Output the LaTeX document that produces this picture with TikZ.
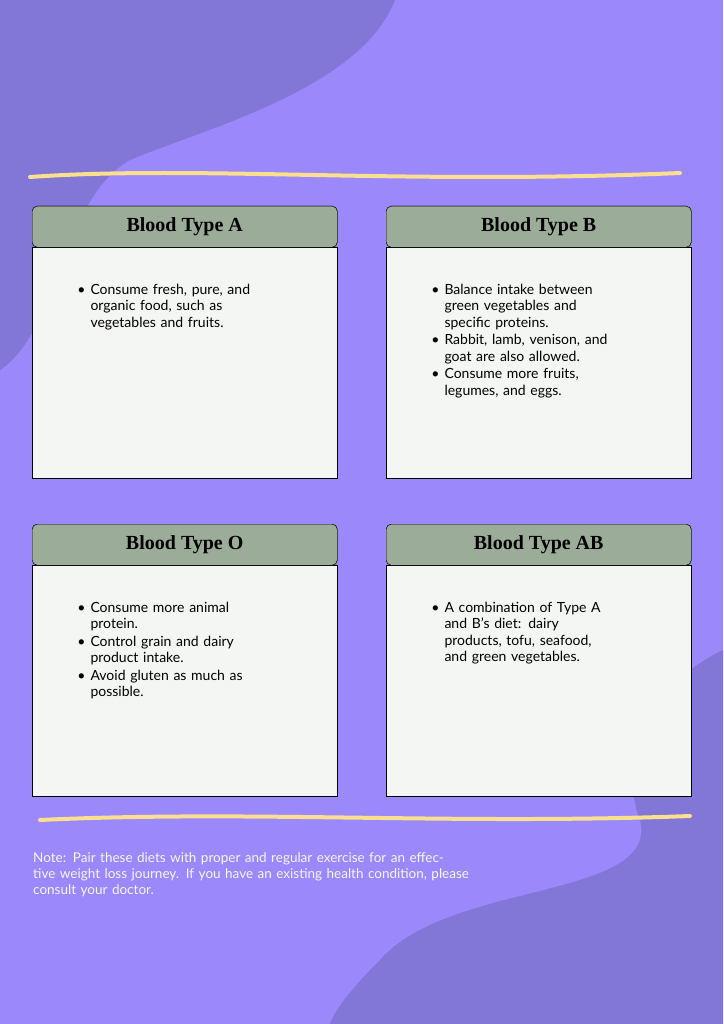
\documentclass[tikz,border=0pt]{standalone}
\usepackage{fontspec}
\setmainfont{Lato}
\newfontfamily\titlefont{Liberation Serif}
\usetikzlibrary{positioning}

\definecolor{bgviolet}{RGB}{155,136,250}
\definecolor{blobviolet}{RGB}{130,118,214}
\definecolor{headgreen}{RGB}{155,173,152}
\definecolor{boxpaper}{RGB}{244,246,243}
\definecolor{wavyellow}{RGB}{250,224,142}

\tikzset{
  header/.style={draw=black, fill=headgreen, minimum width=305pt, minimum height=41pt,
    rounded corners=5pt, font=\titlefont\bfseries\fontsize{20}{22}\selectfont, anchor=north west},
  bodybox/.style={draw=black, fill=boxpaper, minimum width=305pt, minimum height=231pt, anchor=north},
  bullets/.style={text width=190pt, align=left, font=\fontsize{14}{16.5}\selectfont, anchor=north west},
  wave/.style={wavyellow, line width=4pt, line cap=round}
}
\newcommand{\blist}[1]{\begin{itemize}\setlength{\itemsep}{1pt}\setlength{\parskip}{0pt}\setlength{\leftmargin}{14pt}#1\end{itemize}}

\begin{document}
\begin{tikzpicture}[x=1pt,y=-1pt]
  \useasboundingbox (0,0) rectangle (723,1024);
  \fill[bgviolet] (0,0) rectangle (723,1024);
  % background blobs
  \fill[blobviolet] (0,0) -- (395,0) .. controls (360,90) and (200,130) .. (130,160)
    .. controls (60,200) and (60,330) .. (0,370) -- cycle;
  \fill[blobviolet] (723,650) .. controls (640,690) and (620,770) .. (640,820)
    .. controls (660,900) and (450,880) .. (380,960) .. controls (350,990) and (335,1010) .. (330,1024)
    -- (723,1024) -- cycle;
  % wavy lines
  \draw[wave] (30,177) .. controls (200,165) and (400,185) .. (680,173);
  \draw[wave] (40,820) .. controls (250,810) and (450,825) .. (690,816);

  % boxes
  \node[header] (hA) at (32,206) {Blood Type A};
  \node[bodybox] (bA) at (hA.south) {};
  \node[header] (hB) at (386,206) {Blood Type B};
  \node[bodybox] (bB) at (hB.south) {};
  \node[header] (hO) at (32,524) {Blood Type O};
  \node[bodybox] (bO) at (hO.south) {};
  \node[header] (hAB) at (386,524) {Blood Type AB};
  \node[bodybox] (bAB) at (hAB.south) {};
  \node[header] at (32,206) {Blood Type A};
  \node[header] at (386,206) {Blood Type B};
  \node[header] at (32,524) {Blood Type O};
  \node[header] at (386,524) {Blood Type AB};

  \node[bullets] (tA) at (62,266) {\blist{\item Consume fresh, pure, and organic food, such as vegetables and fruits.}};
  \node[bullets] (tB) at (416,266) {\blist{\item Balance intake between green vegetables and specific proteins.
    \item Rabbit, lamb, venison, and goat are also allowed.
    \item Consume more fruits, legumes, and eggs.}};
  \node[bullets] (tO) at (62,584) {\blist{\item Consume more animal protein.
    \item Control grain and dairy product intake.
    \item Avoid gluten as much as possible.}};
  \node[bullets] (tAB) at (416,584) {\blist{\item A combination of Type A and B's diet: dairy products, tofu, seafood, and green vegetables.}};

  \node[anchor=north west, text=white!92!bgviolet, text width=440pt, align=left,
    font=\fontsize{13.5}{16}\selectfont, inner sep=0pt] (note) at (33,852)
    {Note: Pair these diets with proper and regular exercise for an effective weight loss journey. If you have an existing health condition, please consult your doctor.};
\end{tikzpicture}
\end{document}
